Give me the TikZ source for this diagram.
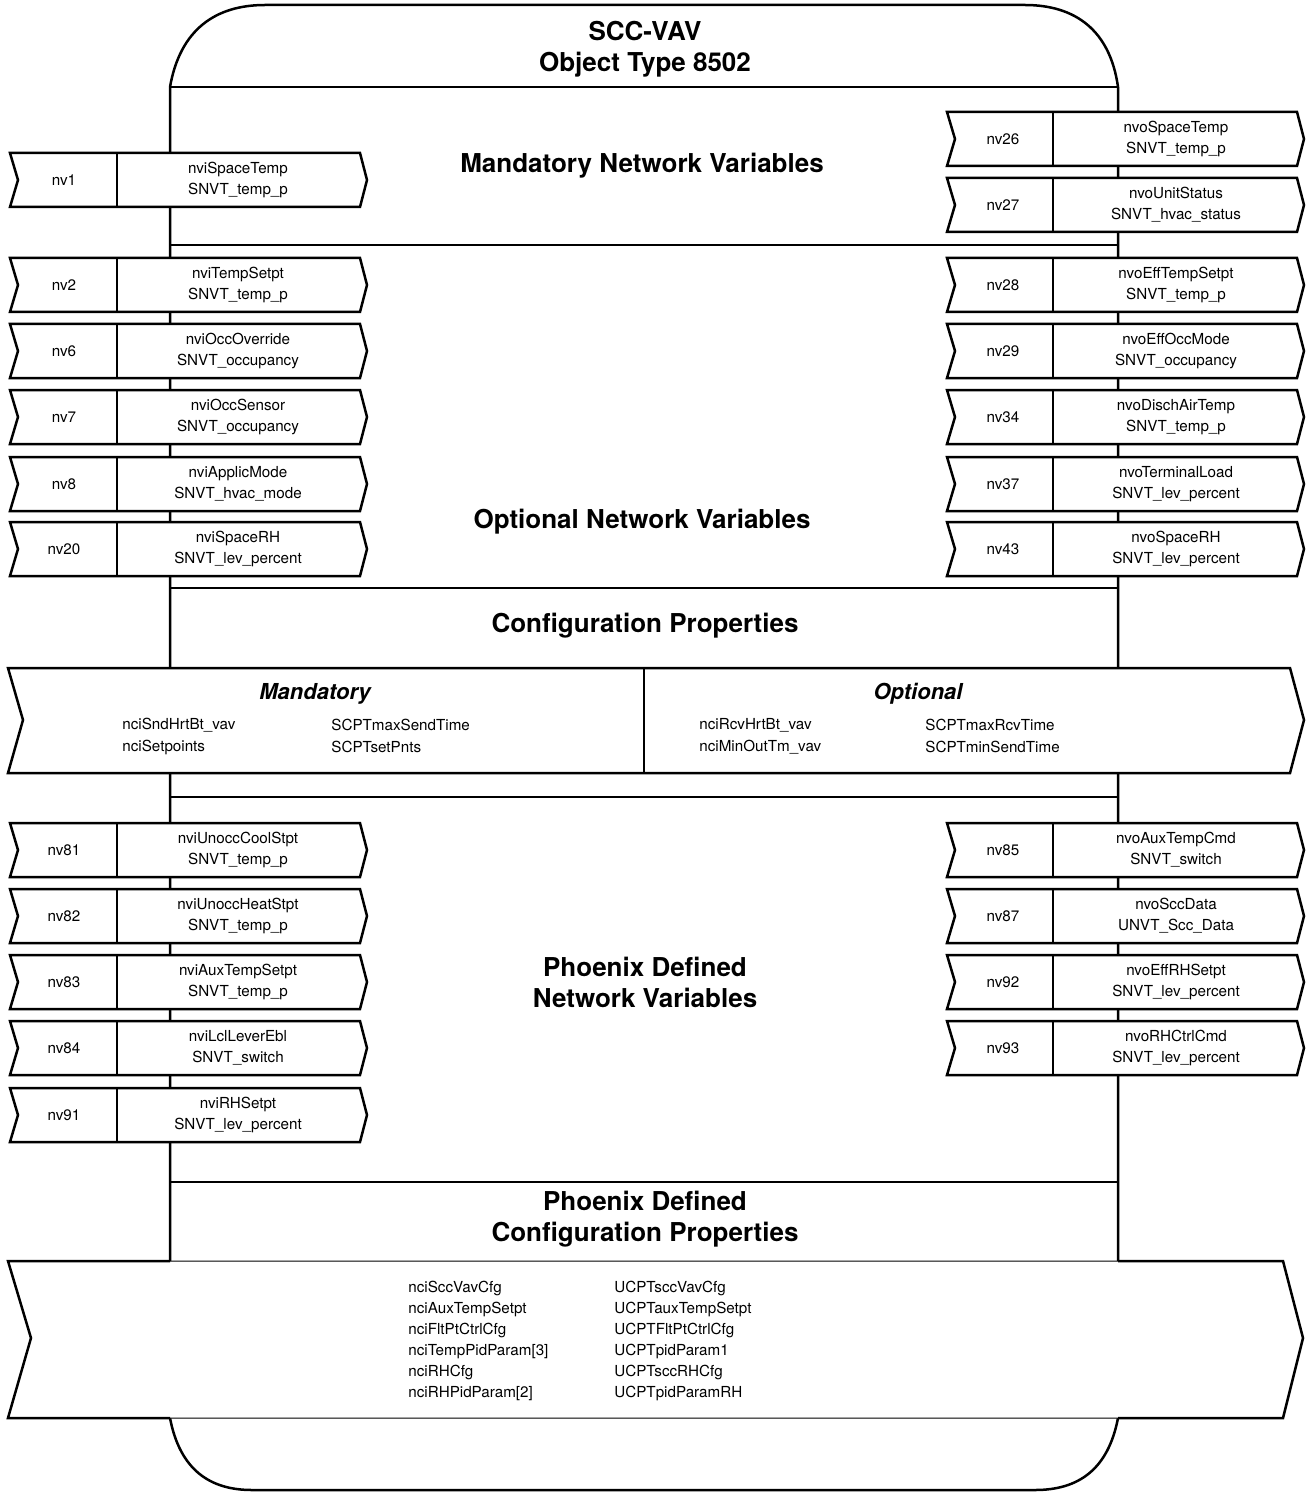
\documentclass[tikz,border=0pt]{standalone}
\usepackage{fontspec}
\setmainfont{TeX Gyre Heros}
\usetikzlibrary{positioning}

\begin{document}
\begin{tikzpicture}[
        x=0.5pt, y=-0.5pt,
        body/.style={line width=1.25pt},
        nvbox/.style={draw, line width=1.25pt, fill=white},
        thinedge/.style={draw, line width=0.5pt, fill=white},
        hdr/.style={font=\bfseries\fontsize{13}{15.5}\selectfont, align=center},
        subhdr/.style={font=\bfseries\itshape\fontsize{11}{13}\selectfont},
        nvtxt/.style={font=\fontsize{7.6}{10.6}\selectfont, align=center, inner sep=0pt},
        item/.style={nvtxt, anchor=west},
      ]
      \useasboundingbox (0,0) rectangle (1307,1492);

      % === Object body ===
      \draw[body] (170,1418) -- (170,87)
        .. controls (180,30) and (215,5) .. (265,5) -- (1025,5)
        .. controls (1075,5) and (1110,30) .. (1118,87) -- (1118,1418);
      \draw[body] (170,1418) .. controls (180,1470) and (210,1490) .. (252,1490)
        -- (1035,1490) .. controls (1078,1490) and (1108,1470) .. (1118,1418);
      \foreach \y in {87, 245, 588, 797, 1182} {
        \draw[body] (170,\y) -- (1118,\y);
      }

      \node[hdr] (title) at (645,49) {SCC-VAV\\Object Type 8502};
      \node[hdr] (mandnv) at (642,166) {Mandatory Network Variables};
      \node[hdr] (optnv) at (642,522) {Optional Network Variables};
      \node[hdr] (cfgprop) at (645,626) {Configuration Properties};
      \node[hdr] (phxnv) at (645,982) {Phoenix Defined\\Network Variables};
      \node[hdr] (phxcp) at (645,1219) {Phoenix Defined\\Configuration Properties};

      % === Inputs (left) ===
      \foreach \y/\n/\a/\b in {180/1/nviSpaceTemp/SNVT\_temp\_p,
          285/2/nviTempSetpt/SNVT\_temp\_p, 351/6/nviOccOverride/SNVT\_occupancy,
          417/7/nviOccSensor/SNVT\_occupancy, 484/8/nviApplicMode/SNVT\_hvac\_mode,
          549/20/nviSpaceRH/SNVT\_lev\_percent, 850/81/nviUnoccCoolStpt/SNVT\_temp\_p,
          916/82/nviUnoccHeatStpt/SNVT\_temp\_p, 982/83/nviAuxTempSetpt/SNVT\_temp\_p,
          1048/84/nviLclLeverEbl/SNVT\_switch, 1115/91/nviRHSetpt/SNVT\_lev\_percent} {
        \draw[nvbox] (10,\y-27) -- (360,\y-27) -- (367,\y) -- (360,\y+27)
          -- (10,\y+27) -- (18,\y) -- cycle;
        \draw[body] (117,\y-27) -- (117,\y+27);
        \node[nvtxt] (nv\n) at (64,\y) {nv\n};
        \node[nvtxt] (nvname\n) at (238,\y) {\a\\\b};
      }

      % === Outputs (right) ===
      \foreach \y/\n/\a/\b in {139/26/nvoSpaceTemp/SNVT\_temp\_p,
          205/27/nvoUnitStatus/SNVT\_hvac\_status, 285/28/nvoEffTempSetpt/SNVT\_temp\_p,
          351/29/nvoEffOccMode/SNVT\_occupancy, 417/34/nvoDischAirTemp/SNVT\_temp\_p,
          484/37/nvoTerminalLoad/SNVT\_lev\_percent, 549/43/nvoSpaceRH/SNVT\_lev\_percent,
          850/85/nvoAuxTempCmd/SNVT\_switch, 916/87/nvoSccData/UNVT\_Scc\_Data,
          982/92/nvoEffRHSetpt/SNVT\_lev\_percent, 1048/93/nvoRHCtrlCmd/SNVT\_lev\_percent} {
        \draw[nvbox] (947,\y-27) -- (1297,\y-27) -- (1304,\y) -- (1297,\y+27)
          -- (947,\y+27) -- (955,\y) -- cycle;
        \draw[body] (1053,\y-27) -- (1053,\y+27);
        \node[nvtxt] (nv\n) at (1003,\y) {nv\n};
        \node[nvtxt] (nvname\n) at (1176,\y) {\a\\\b};
      }

      % === Configuration properties ===
      \draw[nvbox] (8,668) -- (1290,668) -- (1304,720) -- (1290,773)
        -- (8,773) -- (23,720) -- cycle;
      \draw[body] (644,668) -- (644,773);
      \node[subhdr] (cpmand) at (315,694) {Mandatory};
      \node[subhdr] (cpopt) at (918,694) {Optional};
      \node[item] (cpm1) at (122,725) {nciSndHrtBt\_vav};
      \node[item] (cpm2) at (122,747) {nciSetpoints};
      \node[item] (cpm3) at (331,725) {SCPTmaxSendTime};
      \node[item] (cpm4) at (331,747) {SCPTsetPnts};
      \node[item] (cpo1) at (699,725) {nciRcvHrtBt\_vav};
      \node[item] (cpo2) at (699,747) {nciMinOutTm\_vav};
      \node[item] (cpo3) at (925,725) {SCPTmaxRcvTime};
      \node[item] (cpo4) at (925,747) {SCPTminSendTime};

      % === Phoenix configuration properties ===
      \draw[thinedge] (8,1261) -- (1283,1261) -- (1303,1338) -- (1283,1418)
        -- (8,1418) -- (31,1338) -- cycle;
      \draw[body] (170,1261) -- (8,1261) -- (31,1338) -- (8,1418) -- (170,1418);
      \draw[body] (1118,1261) -- (1283,1261) -- (1303,1338) -- (1283,1418) -- (1118,1418);
      \foreach \a/\b [count=\i from 0] in {nciSccVavCfg/UCPTsccVavCfg,
          nciAuxTempSetpt/UCPTauxTempSetpt, nciFltPtCtrlCfg/UCPTFltPtCtrlCfg,
          nciTempPidParam[3]/UCPTpidParam1, nciRHCfg/UCPTsccRHCfg,
          nciRHPidParam[2]/UCPTpidParamRH} {
        \node[item] (phxa\i) at (408,1288+21.1*\i) {\a};
        \node[item] (phxb\i) at (614,1288+21.1*\i) {\b};
      }

      \end{tikzpicture}
\end{document}
